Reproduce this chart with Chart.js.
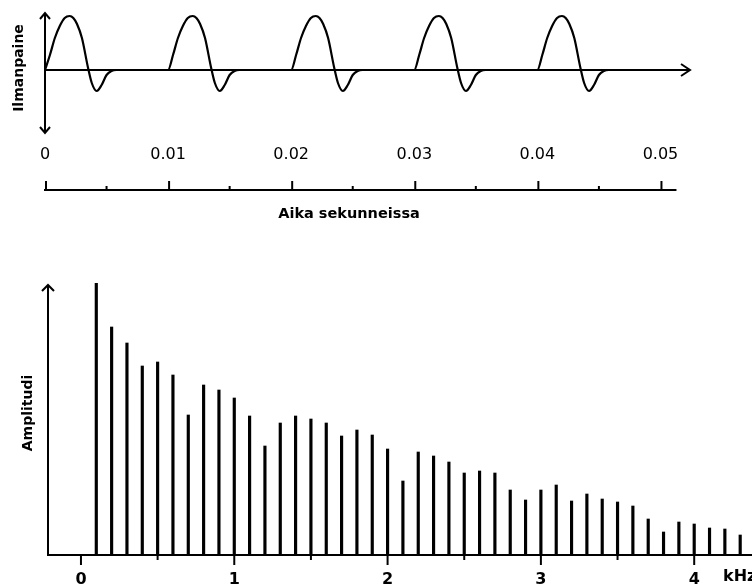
<!DOCTYPE html>
<html>
<head>
<meta charset="utf-8">
<script src="https://cdn.jsdelivr.net/npm/chart.js@4/dist/chart.umd.min.js"></script>
<style>
  html, body { margin: 0; padding: 0; background: #fff; }
  #wrap { position: relative; width: 752px; height: 587px; overflow: hidden; background: #fff; }
  #wave { position: absolute; left: 0; top: 0; }
  #spec { position: absolute; left: 0; top: 250px; }
</style>
</head>
<body>
<div id="wrap">
  <canvas id="wave" width="752" height="240"></canvas>
  <canvas id="spec" width="752" height="337"></canvas>
</div>
<script>
// ---- Pressure waveform: one glottal pulse (time offset in s, relative pressure) ----
const pulseOffsets  = [0, 0.0004, 0.0008, 0.0012, 0.0016, 0.0020, 0.0023, 0.0026, 0.0030, 0.0035, 0.0038, 0.0042, 0.0046, 0.0050, 0.0054, 0.0058];
const pulsePressure = [0, 15,     32,     44,     52,     54,     52,     46,     32,     2,      -13,    -21,    -15,    -5,     -1,     0];
const pulseOnsets   = [0, 0.01, 0.02, 0.03, 0.04];
const timeTicks      = [0, 0.01, 0.02, 0.03, 0.04, 0.05];
const timeTickLabels = ['0', '0.01', '0.02', '0.03', '0.04', '0.05'];
const timeMinorTicks = [0.005, 0.015, 0.025, 0.035, 0.045];

// ---- Line spectrum: harmonic frequencies (kHz) and amplitudes ----
const harmonicFreqs = [0.1, 0.2, 0.3, 0.4, 0.5, 0.6, 0.7, 0.8, 0.9, 1.0,
                       1.1, 1.2, 1.3, 1.4, 1.5, 1.6, 1.7, 1.8, 1.9, 2.0,
                       2.1, 2.2, 2.3, 2.4, 2.5, 2.6, 2.7, 2.8, 2.9, 3.0,
                       3.1, 3.2, 3.3, 3.4, 3.5, 3.6, 3.7, 3.8, 3.9, 4.0,
                       4.1, 4.2, 4.3];
const harmonicAmps  = [272, 228, 212, 189, 193, 180, 140, 170, 165, 157,
                       139, 109, 132, 139, 136, 132, 119, 125, 120, 106,
                       74, 103, 99, 93, 82, 84, 82, 65, 55, 65,
                       70, 54, 61, 56, 53, 49, 36, 23, 33, 31,
                       27, 26, 20];
const freqTicks      = [0, 1, 2, 3, 4];
const freqTickLabels = ['0', '1', '2', '3', '4'];
const freqMinorTicks = [0.5, 1.5, 2.5, 3.5];

// build the pulse train from the pulse shape placed at each onset
const wavePoints = [];
pulseOnsets.forEach(t0 => {
  pulseOffsets.forEach((dt, i) => wavePoints.push({ x: t0 + dt, y: pulsePressure[i] }));
});
wavePoints.push({ x: 0.05, y: 0 });

const spectrumPoints = harmonicFreqs.map((f, i) => ({ x: f, y: harmonicAmps[i] }));

// ---- drawing helpers ----
function seg(ctx, x1, y1, x2, y2) {
  ctx.beginPath(); ctx.moveTo(x1, y1); ctx.lineTo(x2, y2); ctx.stroke();
}
function chevron(ctx, tipX, tipY, dir, len, half) {
  ctx.beginPath();
  if (dir === 'up')    { ctx.moveTo(tipX - half, tipY + len); ctx.lineTo(tipX, tipY); ctx.lineTo(tipX + half, tipY + len); }
  if (dir === 'down')  { ctx.moveTo(tipX - half, tipY - len); ctx.lineTo(tipX, tipY); ctx.lineTo(tipX + half, tipY - len); }
  if (dir === 'right') { ctx.moveTo(tipX - len, tipY - half); ctx.lineTo(tipX, tipY); ctx.lineTo(tipX - len, tipY + half); }
  ctx.stroke();
}

const waveAxes = {
  id: 'waveAxes',
  afterDraw(chart) {
    const { ctx, chartArea: a, scales: { x, y } } = chart;
    ctx.save();
    ctx.strokeStyle = '#000';
    ctx.fillStyle = '#000';
    ctx.lineWidth = 2;
    ctx.lineJoin = 'miter';

    // pressure axis, arrows both ways
    const x0 = x.getPixelForValue(0);
    seg(ctx, x0, a.top, x0, a.bottom);
    chevron(ctx, x0, a.top, 'up', 6, 5);
    chevron(ctx, x0, a.bottom, 'down', 6, 5);

    // zero-pressure line with arrow to the right
    const y0 = y.getPixelForValue(0);
    seg(ctx, x0, y0, a.right, y0);
    chevron(ctx, a.right, y0, 'right', 9, 6);

    // separate time axis below the tick labels, ticks pointing up
    const ty = 190;
    const xEnd = x.getPixelForValue(0.05) + 16;
    seg(ctx, x0 - 1, ty, xEnd, ty);
    timeTicks.forEach(v => { const px = x.getPixelForValue(v) + 1; seg(ctx, px, ty, px, ty - 9); });
    timeMinorTicks.forEach(v => { const px = x.getPixelForValue(v); seg(ctx, px, ty, px, ty - 4); });

    // axis titles
    ctx.textAlign = 'center';
    ctx.textBaseline = 'middle';
    ctx.font = 'bold 14.5px "DejaVu Sans"';
    ctx.fillText('Aika sekunneissa', 349, 214);

    ctx.save();
    ctx.translate(19, 68);
    ctx.rotate(-Math.PI / 2);
    ctx.font = 'bold 14px "DejaVu Sans"';
    ctx.fillText('Ilmanpaine', 0, 0);
    ctx.restore();

    ctx.restore();
  }
};

const specAxes = {
  id: 'specAxes',
  afterDraw(chart) {
    const { ctx, chartArea: a, scales: { x, y } } = chart;
    ctx.save();
    ctx.strokeStyle = '#000';
    ctx.fillStyle = '#000';
    ctx.lineWidth = 2;

    const y0 = y.getPixelForValue(0);
    // frequency baseline
    seg(ctx, a.left - 1, y0, chart.width, y0);
    // amplitude axis with arrow
    seg(ctx, a.left, y0, a.left, a.top + 2);
    chevron(ctx, a.left, a.top + 2, 'up', 6, 6);

    // ticks below the baseline
    freqTicks.forEach(v => { const px = x.getPixelForValue(v); seg(ctx, px, y0, px, y0 + 10); });
    freqMinorTicks.forEach(v => { const px = x.getPixelForValue(v); seg(ctx, px, y0, px, y0 + 5); });

    // unit and axis title
    ctx.textBaseline = 'middle';
    ctx.textAlign = 'left';
    ctx.font = 'bold 16px "DejaVu Sans"';
    ctx.fillText('kHz', 723, 327);

    ctx.save();
    ctx.translate(28, 163);
    ctx.rotate(-Math.PI / 2);
    ctx.textAlign = 'center';
    ctx.font = 'bold 14px "DejaVu Sans"';
    ctx.fillText('Amplitudi', 0, 0);
    ctx.restore();

    ctx.restore();
  }
};

Chart.defaults.color = '#000';

new Chart(document.getElementById('wave'), {
  type: 'line',
  data: {
    datasets: [{
      data: wavePoints,
      borderColor: '#000',
      borderWidth: 2.2,
      pointRadius: 0,
      cubicInterpolationMode: 'monotone',
      fill: false
    }]
  },
  options: {
    responsive: false,
    animation: false,
    events: [],
    layout: { padding: { left: 45, right: 62, top: 13, bottom: 0 } },
    plugins: { legend: { display: false }, tooltip: { enabled: false } },
    scales: {
      x: {
        type: 'linear',
        min: 0,
        max: 0.0524,
        grid: { display: false, drawTicks: false },
        border: { display: false },
        afterBuildTicks: s => { s.ticks = timeTicks.map(v => ({ value: v })); },
        afterFit: s => { s.height = 107; },
        ticks: {
          font: { family: 'DejaVu Sans', size: 16 },
          color: '#000',
          padding: 12,
          maxRotation: 0,
          autoSkip: false,
          callback: v => timeTickLabels[timeTicks.indexOf(v)]
        }
      },
      y: { display: false, min: -63, max: 57 }
    }
  },
  plugins: [waveAxes]
});

new Chart(document.getElementById('spec'), {
  type: 'bar',
  data: {
    datasets: [{
      data: spectrumPoints,
      backgroundColor: '#000',
      borderWidth: 0,
      barThickness: 2.5
    }]
  },
  options: {
    responsive: false,
    animation: false,
    events: [],
    layout: { padding: { left: 48, right: 0, top: 33, bottom: 0 } },
    plugins: { legend: { display: false }, tooltip: { enabled: false } },
    scales: {
      x: {
        type: 'linear',
        min: -0.215,
        max: 4.377,
        offset: false,
        grid: { display: false, drawTicks: false },
        border: { display: false },
        afterBuildTicks: s => { s.ticks = freqTicks.map(v => ({ value: v })); },
        afterFit: s => { s.height = 32; },
        ticks: {
          font: { family: 'DejaVu Sans', size: 16, weight: 'bold' },
          color: '#000',
          padding: 15,
          maxRotation: 0,
          autoSkip: false,
          callback: v => freqTickLabels[freqTicks.indexOf(v)]
        }
      },
      y: { display: false, min: 0, max: 272 }
    }
  },
  plugins: [specAxes]
});
</script>
</body>
</html>
